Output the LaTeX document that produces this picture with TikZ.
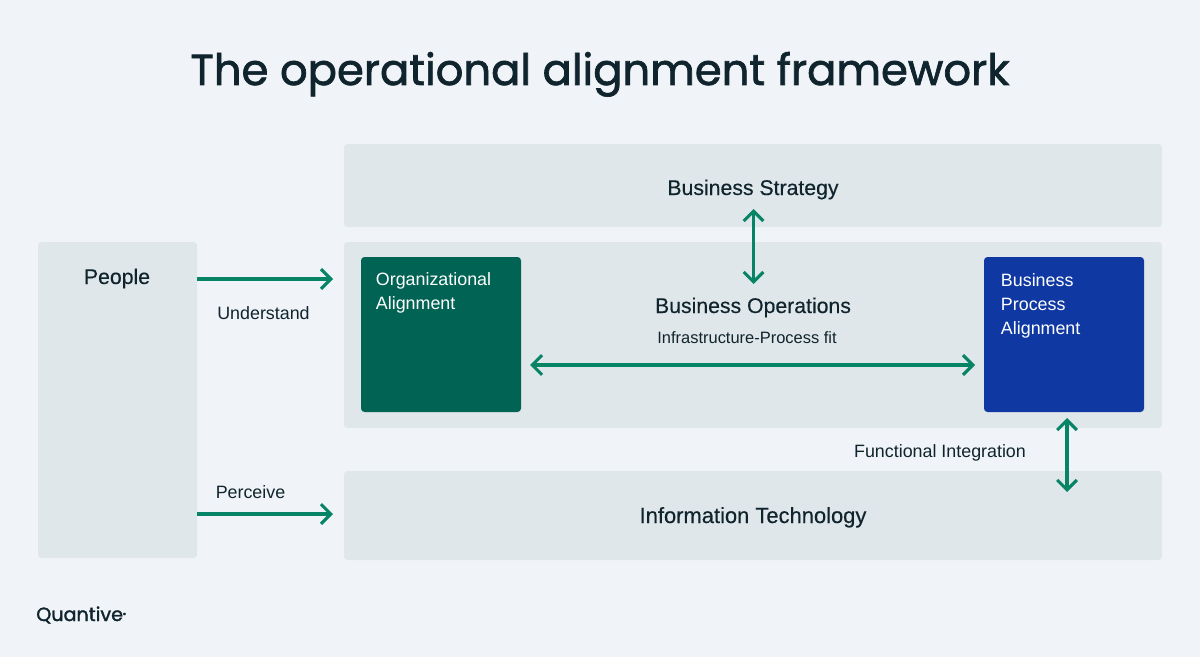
\documentclass[tikz,border=0pt]{standalone}
\usepackage{fontspec}
\setmainfont{Liberation Sans}
\newfontfamily\titlefont[FakeBold=1.6]{Poppins}
\newfontfamily\medfont[FakeBold=0.3]{Liberation Sans}
\usetikzlibrary{arrows.meta}
\definecolor{bgpage}{HTML}{F0F4F8}
\definecolor{panel}{HTML}{E0E7EA}
\definecolor{inktext}{HTML}{10242E}
\definecolor{arrowgreen}{HTML}{078466}
\definecolor{orggreen}{HTML}{006353}
\definecolor{procblue}{HTML}{0F38A3}
\tikzset{
	panelbox/.style={fill=panel, rounded corners=2.5pt},
	alignbox/.style={rounded corners=2.5pt},
	boxlabel/.style={text=inktext, anchor=base, font=\medfont\fontsize{15.1}{17}\selectfont},
	smalllabel/.style={text=inktext, anchor=base, font=\fontsize{12.7}{15}\selectfont},
	alignlabel/.style={text=white, anchor=north west, align=left, font=\fontsize{12.7}{17}\selectfont},
	greenarrow/.style={draw=arrowgreen, line width=2.2pt, -{Straight Barb[length=7pt, width=14pt, line width=2.2pt]}},
	greenboth/.style={draw=arrowgreen, line width=2.2pt, {Straight Barb[length=7pt, width=14pt, line width=2.2pt]}-{Straight Barb[length=7pt, width=14pt, line width=2.2pt]}}
}
\begin{document}
\begin{tikzpicture}[x=0.025cm, y=-0.025cm]
	\fill[bgpage] (0,0) rectangle (1200,657); % page background
	\useasboundingbox (0,0) rectangle (1200,657);

	\node[text=inktext, anchor=base, font=\titlefont\fontsize{30.8}{36}\selectfont] (title) at (600,85) {The operational alignment framework};

	% panels
	\fill[panelbox] (344,144) rectangle (1162,227);
	\fill[panelbox] (344,242) rectangle (1162,428);
	\fill[panelbox] (344,471) rectangle (1162,560);
	\fill[panelbox] (38,242) rectangle (197,558);
	\fill[alignbox, orggreen] (361,257) rectangle (521,412);
	\fill[alignbox, procblue] (984,257) rectangle (1144,412);

	\node[boxlabel] (strategy) at (753,195) {Business Strategy};
	\node[boxlabel] (operations) at (753,313) {Business Operations};
	\node[boxlabel, font=\medfont\fontsize{15.6}{17}\selectfont] (technology) at (753,523) {Information Technology};
	\node[boxlabel] (people) at (117,284) {People};

	\node[alignlabel] (orgalign) at (371,268) {Organizational\\Alignment};
	\node[alignlabel] (procalign) at (996,269) {Business\\Process\\Alignment};

	\node[smalllabel] (understand) at (263.5,319) {Understand};
	\node[smalllabel] (perceive) at (250.5,498) {Perceive};
	\node[smalllabel, font=\fontsize{11.7}{15}\selectfont] (fit) at (747,343) {Infrastructure-Process fit};
	\node[smalllabel] (functional) at (940,457) {Functional Integration};

	% arrow ends
	\coordinate (peopletop) at (197,279);
	\coordinate (opsleft) at (333,279);
	\coordinate (peoplelow) at (197,514);
	\coordinate (techleft) at (333,514);
	\coordinate (stratlow) at (753.5,209);
	\coordinate (opstop) at (753.5,284);
	\coordinate (orgright) at (530,365);
	\coordinate (procleft) at (975,365);
	\coordinate (proclow) at (1067,418);
	\coordinate (techtop) at (1067,492);

	\draw[greenarrow] (peopletop) -- (opsleft);
	\draw[greenarrow] (peoplelow) -- (techleft);
	\draw[greenboth] (stratlow) -- (opstop);
	\draw[greenboth] (orgright) -- (procleft);
	\draw[greenboth] (proclow) -- (techtop);

	\node[text=inktext, anchor=base west, inner sep=0pt, font=\titlefont\fontsize{13.6}{17}\selectfont] (logo) at (36,621) {Quantive\raisebox{3pt}{\fontsize{4}{4}\selectfont ®}};
\end{tikzpicture}
\end{document}
